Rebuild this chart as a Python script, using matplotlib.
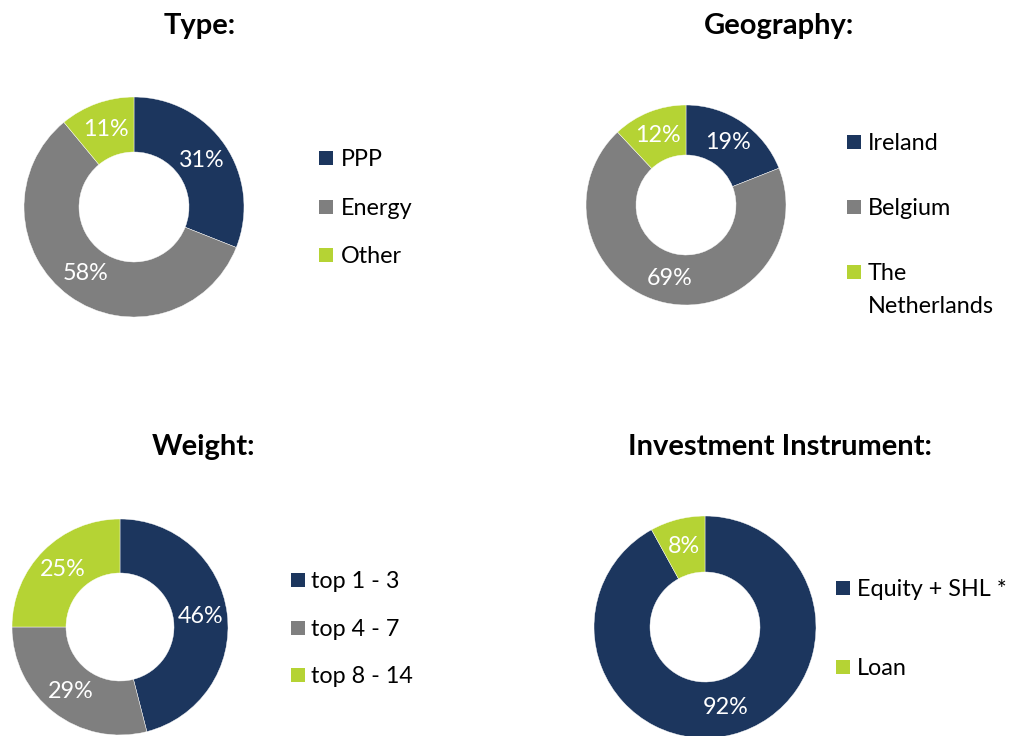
import matplotlib.pyplot as plt

###############################################################################
# Data
###############################################################################
type_labels = ['PPP', 'Energy', 'Other']
type_values = [31, 58, 11]
geo_labels = ['Ireland', 'Belgium', 'The\nNetherlands']
geo_values = [19, 69, 12]
weight_labels = ['top 1 - 3', 'top 4 - 7', 'top 8 - 14']
weight_values = [46, 29, 25]
instr_labels = ['Equity + SHL *', 'Loan']
instr_values = [92, 8]

###############################################################################
# Style
###############################################################################
(W, H, DPI) = (1010, 736, 100)
(NAVY, GREY, LIME) = ('#1c365e', '#7f7f7f', '#b5d334')
LINE_GAP = 33
plt.rcParams['font.family'] = ['Lato', 'DejaVu Sans']

# layout in pixel coords, measured from top-left
panels = [
    dict(title='Type:', labels=type_labels, values=type_values,
         colors=[NAVY, GREY, LIME], center=(134, 207), r=110, hole=55,
         title_xy=(200, 34), mk_x=326, tx_x=341, rows=[158, 207, 255]),
    dict(title='Geography:', labels=geo_labels, values=geo_values,
         colors=[NAVY, GREY, LIME], center=(686, 205), r=100, hole=50,
         title_xy=(779, 34), mk_x=854, tx_x=868, rows=[142, 207, 272]),
    dict(title='Weight:', labels=weight_labels, values=weight_values,
         colors=[NAVY, GREY, LIME], center=(120, 627), r=108, hole=54,
         title_xy=(203, 455), mk_x=298, tx_x=311, rows=[580, 628, 675]),
    dict(title='Investment Instrument:', labels=instr_labels,
         values=instr_values, colors=[NAVY, LIME], center=(705, 627),
         r=111, hole=55, title_xy=(780, 455), mk_x=843, tx_x=857,
         rows=[588, 667]),
]

###############################################################################
# Plot
###############################################################################
fig = plt.figure(figsize=(W / DPI, H / DPI), dpi=DPI)
ax = fig.add_axes([0, 0, 1, 1])

for p in panels:
    (cx, cy) = p['center']
    r = p['r']
    (wedges, _, pcts) = ax.pie(
        p['values'], colors=p['colors'], startangle=90, counterclock=False,
        center=(cx, H - cy), radius=r,
        autopct=lambda v: f'{v:.0f}%', pctdistance=(r + p['hole']) / 2 / r,
        wedgeprops=dict(width=r - p['hole'], edgecolor='white', lw=0.3),
        textprops=dict(color='white', fontsize=16.8)
    )
    ax.text(p['title_xy'][0], H - p['title_xy'][1], p['title'],
            ha='center', va='baseline', fontsize=21, fontweight='bold')
    for (lab, col, y) in zip(p['labels'], p['colors'], p['rows']):
        ax.scatter([p['mk_x']], [H - y], marker='s', s=115, color=col, lw=0)
        # baseline sits ~8 px below the square's centre; wrapped lines below
        for (i, line) in enumerate(lab.split('\n')):
            ax.text(p['tx_x'], H - y - 8 - i * LINE_GAP, line,
                    ha='left', va='baseline', fontsize=16.8)

ax.set_xlim(0, W)
ax.set_ylim(0, H)
ax.set_aspect('auto')
ax.axis('off')

fig.savefig('out.png', dpi=DPI, facecolor='white')
plt.close('all')
